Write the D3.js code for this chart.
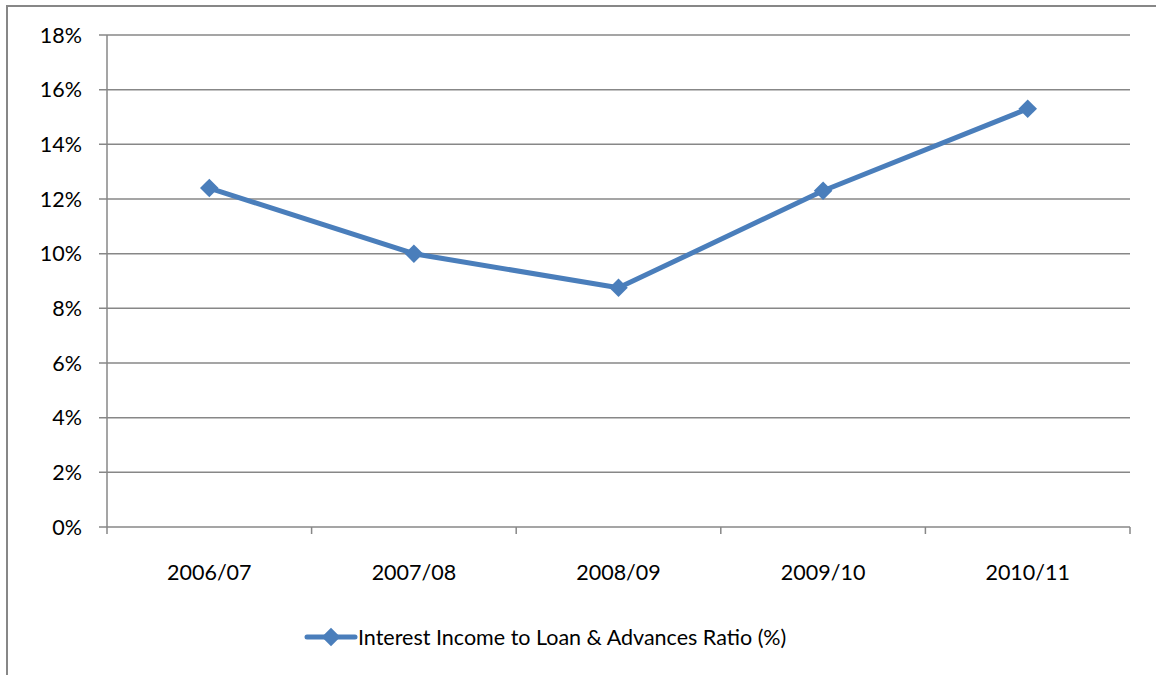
<!DOCTYPE html>
<html>
<head>
<meta charset="utf-8">
<script src="https://cdn.jsdelivr.net/npm/d3@7"></script>
<style>
  body { margin: 0; background: #fff; }
  text { font-family: Lato, "Open Sans", sans-serif; fill: #000; }
</style>
</head>
<body>
<div id="graphic"></div>
<script>
var years = ["2006/07", "2007/08", "2008/09", "2009/10", "2010/11"];
var ratio = [12.4, 10.0, 8.75, 12.3, 15.3];
var yTicks = [0, 2, 4, 6, 8, 10, 12, 14, 16, 18];
var seriesName = "Interest Income to Loan & Advances Ratio (%)";

var width = 1156, height = 675;
var margin = { top: 35, right: 26, bottom: 148, left: 107 };
var chart_width = width - margin.left - margin.right;
var chart_height = height - margin.top - margin.bottom;
var blue = "#4a7ebb", grid = "#878787";
var fontSize = 21.5;

var svg = d3.select("#graphic").append("svg")
  .attr("width", width)
  .attr("height", height);

// outer chart frame
svg.append("rect")
  .attr("x", 7).attr("y", 6)
  .attr("width", width + 20).attr("height", height + 20)
  .attr("fill", "none").attr("stroke", grid).attr("stroke-width", 2);

var g = svg.append("g")
  .attr("transform", "translate(" + margin.left + "," + margin.top + ")");

var x = d3.scaleBand().domain(years).range([0, chart_width]);
var y = d3.scaleLinear().domain([0, 18]).range([chart_height, 0]);

// horizontal gridlines + y labels
g.selectAll("line.grid")
  .data(yTicks)
  .join("line")
  .attr("class", "grid")
  .attr("x1", -8).attr("x2", chart_width)
  .attr("y1", d => y(d)).attr("y2", d => y(d))
  .attr("stroke", grid).attr("stroke-width", 1.5);

g.selectAll("text.ylab")
  .data(yTicks)
  .join("text")
  .attr("class", "ylab")
  .attr("x", -25)
  .attr("y", d => y(d))
  .attr("dy", "0.35em")
  .attr("text-anchor", "end")
  .attr("font-size", fontSize)
  .text(d => d + "%");

// y axis line
g.append("line")
  .attr("x1", 0).attr("x2", 0)
  .attr("y1", 0).attr("y2", chart_height + 7)
  .attr("stroke", grid).attr("stroke-width", 1.5);

// x ticks between categories
var bounds = years.map(d => x(d)).concat([chart_width]);
g.selectAll("line.xtick")
  .data(bounds.slice(1))
  .join("line")
  .attr("class", "xtick")
  .attr("x1", d => d).attr("x2", d => d)
  .attr("y1", chart_height).attr("y2", chart_height + 7)
  .attr("stroke", grid).attr("stroke-width", 1.5);

g.selectAll("text.xlab")
  .data(years)
  .join("text")
  .attr("class", "xlab")
  .attr("x", d => x(d) + x.bandwidth() / 2)
  .attr("y", chart_height + 45)
  .attr("dy", "0.35em")
  .attr("text-anchor", "middle")
  .attr("font-size", fontSize)
  .text(d => d);

// the series line
var pts = years.map((d, i) => ({ year: d, value: ratio[i] }));
var line = d3.line()
  .x(d => x(d.year) + x.bandwidth() / 2)
  .y(d => y(d.value));

g.append("path")
  .attr("d", line(pts))
  .attr("fill", "none")
  .attr("stroke", blue)
  .attr("stroke-width", 5)
  .attr("stroke-linejoin", "round");

var diamond = d3.symbol().type(d3.symbolDiamond2).size(220);
g.selectAll("path.marker")
  .data(pts)
  .join("path")
  .attr("class", "marker")
  .attr("d", diamond)
  .attr("transform", d => "translate(" + (x(d.year) + x.bandwidth() / 2) + "," + y(d.value) + ")")
  .attr("fill", blue);

// legend
var legend = svg.append("g").attr("transform", "translate(307,637)");
legend.append("line")
  .attr("x1", 0).attr("x2", 48)
  .attr("stroke", blue).attr("stroke-width", 5).attr("stroke-linecap", "round");
legend.append("path")
  .attr("d", diamond)
  .attr("transform", "translate(24,0)")
  .attr("fill", blue);
legend.append("text")
  .attr("x", 51)
  .attr("dy", "0.35em")
  .attr("font-size", fontSize)
  .text(seriesName);
</script>
</body>
</html>
